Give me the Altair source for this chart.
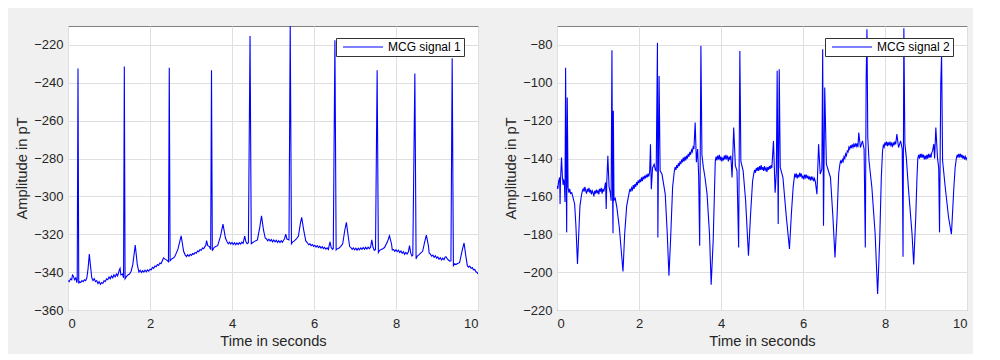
import altair as alt
import pandas as pd

# (time in s, amplitude in pT)
signal1 = [
    (0.00, -344.5), (0.03, -345), (0.06, -343.5), (0.09, -344), (0.11, -341.5), (0.13, -342),
    (0.16, -344), (0.19, -343), (0.215, -345.5), (0.225, -344), (0.244, -232.5), (0.262, -346),
    (0.28, -345), (0.31, -345.5), (0.34, -344.5), (0.37, -345), (0.40, -344), (0.43, -344.5),
    (0.46, -343), (0.49, -338), (0.52, -330.5), (0.55, -337),
    (0.58, -343), (0.61, -344.5), (0.64, -343.5), (0.67, -345), (0.70, -344.5), (0.73, -346),
    (0.76, -345), (0.79, -346.5), (0.82, -345.5), (0.85, -346), (0.88, -344.5), (0.91, -345),
    (0.94, -343.5), (0.97, -344), (1.00, -342.5), (1.03, -343.5), (1.06, -342), (1.09, -343),
    (1.12, -341.5), (1.15, -342.5), (1.18, -341), (1.21, -342),
    (1.25, -339), (1.27, -338), (1.29, -341.5), (1.33, -341), (1.355, -343), (1.374, -231.4),
    (1.392, -343.5), (1.42, -342.5), (1.46, -341.5), (1.50, -341), (1.54, -339.5), (1.58, -336),
    (1.64, -325.7), (1.69, -336), (1.73, -340),
    (1.76, -339), (1.79, -340.2), (1.82, -339.2), (1.85, -340), (1.88, -339), (1.91, -339.8),
    (1.94, -338.8), (1.97, -339.5), (2.00, -338.5), (2.03, -338.8), (2.06, -337.5), (2.09, -338),
    (2.12, -336.8), (2.15, -337.2), (2.18, -336), (2.21, -336.5), (2.24, -335.2), (2.27, -335.6),
    (2.30, -334),
    (2.33, -332.5), (2.36, -333), (2.40, -333.5), (2.45, -334.5), (2.47, -232.1), (2.49, -334),
    (2.53, -333), (2.57, -332.5), (2.60, -332), (2.68, -328), (2.76, -320.8), (2.82, -329),
    (2.86, -331), (2.89, -331.8), (2.92, -330.8), (2.95, -331.6), (2.98, -330.6), (3.01, -331.2),
    (3.04, -330.2), (3.07, -330.6), (3.10, -329.6), (3.13, -330), (3.16, -328.8), (3.19, -329.2),
    (3.22, -328), (3.25, -328.4), (3.28, -327.2), (3.31, -327.6), (3.34, -326.4),
    (3.36, -326), (3.38, -323.4), (3.41, -326), (3.45, -326.5), (3.48, -328), (3.50, -233.4),
    (3.52, -328.7), (3.56, -327), (3.60, -326.5), (3.65, -326), (3.72, -321), (3.78, -314.6),
    (3.84, -322),
    (3.88, -324), (3.91, -325), (3.94, -324.2), (3.97, -325.2), (4.00, -324.3), (4.03, -325.4),
    (4.06, -324.5), (4.09, -325.5), (4.12, -324.6), (4.15, -325.4), (4.18, -324.4), (4.21, -325.2),
    (4.24, -324.2), (4.27, -324.8),
    (4.31, -321), (4.34, -324), (4.37, -325), (4.40, -324.5), (4.44, -215.3), (4.47, -325),
    (4.50, -324.5), (4.53, -324), (4.57, -323.5), (4.62, -323), (4.68, -316), (4.72, -310.2),
    (4.77, -318), (4.81, -322),
    (4.84, -322.5), (4.87, -323.5), (4.90, -322.6), (4.93, -323.6), (4.96, -322.8), (4.99, -324),
    (5.02, -323), (5.05, -324), (5.08, -323.2), (5.11, -324.3), (5.14, -323.4), (5.17, -324.4),
    (5.20, -323.4), (5.23, -324.2), (5.26, -323),
    (5.28, -322.5), (5.31, -319.9), (5.34, -322.5), (5.39, -323), (5.42, -209), (5.45, -325),
    (5.48, -324), (5.52, -323.5), (5.57, -322.5), (5.62, -321), (5.67, -314), (5.70, -311.1),
    (5.75, -318), (5.80, -323.5),
    (5.84, -324.5), (5.87, -325.5), (5.90, -325), (5.93, -326), (5.96, -325.4), (5.99, -326.4),
    (6.02, -325.8), (6.05, -326.8), (6.08, -326), (6.11, -327), (6.14, -326.3), (6.17, -327.3),
    (6.20, -326.6), (6.23, -327.6), (6.26, -326.9), (6.29, -327.9), (6.32, -327.2), (6.35, -328),
    (6.39, -324), (6.42, -327), (6.45, -328), (6.47, -327.5), (6.51, -217.5), (6.54, -328.3),
    (6.57, -327.6), (6.60, -327.5), (6.65, -326.5), (6.70, -325), (6.75, -318), (6.79, -313.7),
    (6.84, -322), (6.87, -326.5),
    (6.90, -327), (6.93, -328), (6.96, -327.2), (6.99, -328.2), (7.02, -327.4), (7.05, -328.4),
    (7.08, -327.4), (7.11, -328.2), (7.14, -327.2), (7.17, -328), (7.20, -327), (7.23, -327.9),
    (7.26, -326.9), (7.29, -327.8), (7.32, -326.8), (7.35, -327.6), (7.38, -326.8),
    (7.41, -323), (7.44, -326.9), (7.47, -328.5), (7.50, -328), (7.54, -233.4), (7.57, -329.6),
    (7.60, -328.5), (7.64, -328), (7.68, -327.6), (7.72, -327), (7.79, -324), (7.84, -320.8),
    (7.89, -325), (7.91, -328.3),
    (7.94, -328), (7.97, -329), (8.00, -328.2), (8.03, -329.2), (8.06, -328.4), (8.09, -329.6),
    (8.12, -328.8), (8.15, -330), (8.18, -329.2), (8.21, -330.6), (8.24, -329.6), (8.27, -330.4),
    (8.30, -329.4),
    (8.33, -326), (8.36, -330), (8.39, -331.5), (8.41, -331), (8.46, -235.1), (8.49, -333),
    (8.52, -331.5), (8.55, -331), (8.60, -330), (8.65, -329), (8.70, -324), (8.74, -320.4),
    (8.79, -326), (8.81, -330),
    (8.84, -330.5), (8.87, -331.6), (8.90, -331), (8.93, -332.2), (8.96, -331.4), (8.99, -332.6),
    (9.02, -332), (9.05, -333.2), (9.08, -332.4), (9.11, -333.6), (9.14, -332.6), (9.17, -333.4),
    (9.20, -332), (9.22, -331.9), (9.25, -333), (9.28, -333.6), (9.31, -334.2),
    (9.34, -334), (9.37, -227), (9.40, -336.6), (9.43, -335.6), (9.46, -336), (9.50, -335.4),
    (9.55, -335), (9.62, -328), (9.66, -324.6), (9.70, -331),
    (9.74, -336.6), (9.77, -337.4), (9.80, -336.8), (9.83, -338), (9.86, -337.6), (9.89, -338.8),
    (9.92, -338.6), (9.95, -339.8), (9.98, -340.2), (10.0, -341),
]

signal2 = [
    (0.00, -154.4), (0.02, -156), (0.04, -152), (0.065, -150), (0.075, -164), (0.085, -152),
    (0.11, -139.5), (0.13, -149), (0.15, -154), (0.16, -151), (0.18, -153), (0.195, -163),
    (0.21, -92), (0.225, -150), (0.236, -179), (0.25, -107.8), (0.27, -155.3), (0.29, -158),
    (0.31, -156), (0.33, -158.5), (0.36, -158), (0.39, -160.5), (0.43, -164), (0.46, -175),
    (0.50, -195.7), (0.53, -180), (0.56, -165),
    (0.60, -159), (0.62, -157), (0.64, -156), (0.66, -157.5), (0.68, -155), (0.70, -157),
    (0.72, -158.5), (0.74, -156), (0.76, -157.5), (0.78, -155.5), (0.80, -158), (0.82, -156.5),
    (0.84, -159), (0.86, -157), (0.88, -158), (0.90, -160), (0.92, -157), (0.94, -158.5),
    (0.96, -156.5), (0.98, -158), (1.00, -157), (1.02, -159), (1.04, -156), (1.06, -157.5),
    (1.08, -155.5), (1.10, -158.5), (1.12, -156), (1.14, -157.5), (1.16, -155.5),
    (1.185, -152.6), (1.20, -166.7), (1.215, -152), (1.24, -138.6), (1.27, -155), (1.30, -158),
    (1.32, -162.3), (1.34, -82.8), (1.355, -158), (1.366, -179.4), (1.374, -114.8), (1.39, -162),
    (1.42, -161), (1.46, -165.8), (1.52, -176.4), (1.58, -192), (1.61, -199.6), (1.65, -180),
    (1.70, -165),
    (1.76, -158), (1.78, -156), (1.80, -157.5), (1.82, -155.5), (1.84, -156.5), (1.86, -154),
    (1.88, -156), (1.90, -153.5), (1.92, -155), (1.94, -152.5), (1.96, -154), (1.98, -151.5),
    (2.00, -153), (2.02, -151), (2.04, -152.5), (2.06, -150), (2.08, -152), (2.10, -149.5),
    (2.12, -151), (2.14, -149), (2.16, -150.5), (2.18, -148.5), (2.20, -150), (2.22, -148),
    (2.24, -149.5),
    (2.26, -147), (2.28, -132.4), (2.30, -156.2), (2.33, -145), (2.37, -143), (2.40, -146),
    (2.42, -146.5), (2.45, -78.8), (2.46, -181.7), (2.49, -96.4), (2.515, -146.5), (2.56, -148.2),
    (2.64, -158.8), (2.69, -180), (2.73, -201.9), (2.77, -183), (2.82, -155),
    (2.86, -147), (2.88, -144.5), (2.90, -146), (2.92, -143.5), (2.94, -145), (2.96, -142.5),
    (2.98, -144), (3.00, -141.5), (3.02, -143), (3.04, -140.5), (3.06, -142), (3.08, -139.5),
    (3.10, -141.5), (3.12, -139), (3.14, -141), (3.16, -138.5), (3.18, -140), (3.20, -137.5),
    (3.22, -139), (3.24, -136.5), (3.26, -138), (3.28, -135.5), (3.30, -136.5), (3.32, -134),
    (3.34, -135),
    (3.37, -121), (3.40, -142), (3.43, -135), (3.455, -149), (3.48, -186.1), (3.51, -80.5),
    (3.535, -138), (3.57, -144.7), (3.61, -150), (3.66, -158.8), (3.72, -180), (3.76, -206.6),
    (3.81, -183),
    (3.86, -141.5), (3.88, -139), (3.90, -141), (3.92, -138.5), (3.94, -140.5), (3.96, -138),
    (3.98, -141), (4.00, -139), (4.02, -141.5), (4.04, -139.5), (4.06, -141), (4.08, -138.5),
    (4.10, -140.5), (4.12, -138), (4.14, -140), (4.16, -139), (4.18, -141.5), (4.20, -139),
    (4.22, -140.5), (4.24, -138.5),
    (4.27, -150), (4.31, -123.6), (4.35, -143.8), (4.39, -146.5), (4.43, -187), (4.46, -83.2),
    (4.485, -141.5), (4.54, -146.5), (4.60, -162), (4.67, -191.3), (4.72, -170), (4.77, -152),
    (4.80, -148), (4.82, -146), (4.84, -147.5), (4.86, -145), (4.88, -146.5), (4.90, -144.5),
    (4.92, -146.5), (4.94, -144), (4.96, -146), (4.98, -143.5), (5.00, -146), (5.02, -144.5),
    (5.04, -146.5), (5.06, -144), (5.08, -146), (5.10, -145), (5.12, -147), (5.14, -144.5),
    (5.16, -146), (5.18, -144), (5.20, -145.5), (5.22, -143.5), (5.24, -145),
    (5.28, -130.7), (5.32, -158), (5.35, -147), (5.37, -93.7), (5.395, -174.6), (5.42, -92.8),
    (5.445, -144.7), (5.51, -149.9), (5.59, -170), (5.67, -187.8), (5.72, -168), (5.76, -155),
    (5.80, -148), (5.82, -150), (5.84, -148), (5.86, -150.5), (5.88, -148.5), (5.90, -150),
    (5.92, -147.5), (5.94, -149.5), (5.96, -148), (5.98, -150.5), (6.00, -149), (6.02, -151),
    (6.04, -148.5), (6.06, -150), (6.08, -148.5), (6.10, -150.5), (6.12, -149), (6.14, -151),
    (6.16, -149.5), (6.18, -151.5), (6.20, -149.5), (6.22, -151), (6.24, -150), (6.26, -152),
    (6.28, -150.5), (6.30, -152),
    (6.34, -158.8), (6.38, -132.4), (6.42, -148.2), (6.46, -145.5), (6.48, -82.3), (6.50, -175.5),
    (6.53, -102.5), (6.57, -143), (6.67, -150), (6.73, -171), (6.78, -192.2), (6.83, -171),
    (6.87, -148),
    (6.90, -143), (6.92, -141), (6.94, -142.5), (6.96, -140.5), (6.98, -141.5), (7.00, -139),
    (7.02, -140), (7.04, -137.5), (7.06, -138.5), (7.08, -136), (7.10, -136.5), (7.12, -134),
    (7.14, -135), (7.16, -133), (7.18, -134.5), (7.20, -132.5), (7.22, -134), (7.24, -132.5),
    (7.26, -134), (7.28, -132), (7.30, -133.5), (7.32, -132),
    (7.34, -134), (7.36, -126.3), (7.40, -134.2), (7.45, -130.7), (7.49, -135), (7.52, -187),
    (7.54, -99), (7.56, -71.7), (7.58, -128.9), (7.61, -141.2), (7.68, -155.3), (7.76, -180),
    (7.82, -211.6), (7.87, -183.5), (7.91, -150),
    (7.94, -136), (7.96, -133), (7.98, -134), (8.00, -131.5), (8.02, -133), (8.04, -131),
    (8.06, -133.5), (8.08, -131.5), (8.10, -133), (8.12, -131), (8.14, -133), (8.16, -132),
    (8.18, -134), (8.20, -131.5), (8.22, -133), (8.24, -131), (8.26, -132.5),
    (8.29, -127.1), (8.33, -134.2), (8.38, -130.7), (8.42, -135), (8.44, -191.9), (8.46, -71.2),
    (8.485, -132.4), (8.52, -139.5), (8.57, -155.3), (8.66, -180), (8.70, -196), (8.75, -171),
    (8.78, -150),
    (8.80, -140), (8.82, -138), (8.84, -140), (8.86, -137.5), (8.88, -139.5), (8.90, -137.5),
    (8.92, -139.5), (8.94, -138), (8.96, -140.5), (8.98, -138.5), (9.00, -140.5), (9.02, -138),
    (9.04, -140), (9.06, -137.5), (9.08, -139.5), (9.10, -138), (9.12, -139.5), (9.14, -137),
    (9.16, -136), (9.19, -132.4), (9.21, -140), (9.24, -123.6), (9.28, -139.5), (9.31, -145),
    (9.33, -179), (9.36, -100.8), (9.38, -84.9), (9.405, -141.2), (9.47, -155.3), (9.55, -171),
    (9.62, -180), (9.68, -155.3), (9.71, -145),
    (9.74, -140), (9.76, -138), (9.78, -139.5), (9.80, -137.5), (9.82, -139), (9.84, -137.5),
    (9.86, -139.5), (9.88, -138), (9.90, -140), (9.92, -138.5), (9.94, -140.5), (9.96, -139),
    (9.98, -140.5), (10.0, -139.5),
]

x_ticks = [0, 2, 4, 6, 8, 10]
y1_ticks = [-360, -340, -320, -300, -280, -260, -240, -220]
y2_ticks = [-220, -200, -180, -160, -140, -120, -100, -80]
y1_domain = [-360, -210]
y2_domain = [-220, -70]

FONT = "Liberation Sans"
TEXT = "#262626"


def panel(points, name, ydom, yticks):
    df = pd.DataFrame(points, columns=["t", "v"])
    df["series"] = name
    return alt.Chart(df).mark_line(strokeWidth=1.1, clip=True).encode(
        x=alt.X("t:Q", scale=alt.Scale(domain=[0, 10], nice=False, zero=False),
                axis=alt.Axis(title="Time in seconds", values=x_ticks, format="d")),
        y=alt.Y("v:Q", scale=alt.Scale(domain=ydom, nice=False, zero=False),
                axis=alt.Axis(title="Amplitude in pT", values=yticks, format="d")),
        color=alt.Color("series:N", scale=alt.Scale(range=["#0000ff"]),
                        legend=alt.Legend(title=None, orient="none", legendX=268, legendY=12,
                                          fillColor="white", strokeColor="#333333",
                                          padding=3, symbolType="M-0.4,0H7.6", symbolSize=100,
                                          symbolStrokeWidth=1.2, labelFontSize=12,
                                          labelFont=FONT, labelColor="black", labelOffset=37)),
    ).properties(width=410, height=284)


left = panel(signal1, "MCG signal 1", y1_domain, y1_ticks)
right = panel(signal2, "MCG signal 2", y2_domain, y2_ticks)

chart = alt.hconcat(left, right, spacing=24).resolve_scale(
    color="independent").resolve_legend(color="independent").properties(
    background="#f0f0f0",
    padding={"left": 6, "top": 17, "right": 5, "bottom": 5},
).configure_view(
    fill="white", stroke="#808080", strokeWidth=1
).configure_axis(
    domain=False, ticks=False, grid=True, gridColor="#dfdfdf", gridWidth=1,
    labelFont=FONT, titleFont=FONT, labelFontSize=13, titleFontSize=14.7,
    labelColor=TEXT, titleColor=TEXT, titleFontWeight="normal",
).configure_axisX(labelPadding=7, titlePadding=3).configure_axisY(labelPadding=5, titlePadding=4)

chart.save("out.html", embed_options={"renderer": "svg", "actions": False})
